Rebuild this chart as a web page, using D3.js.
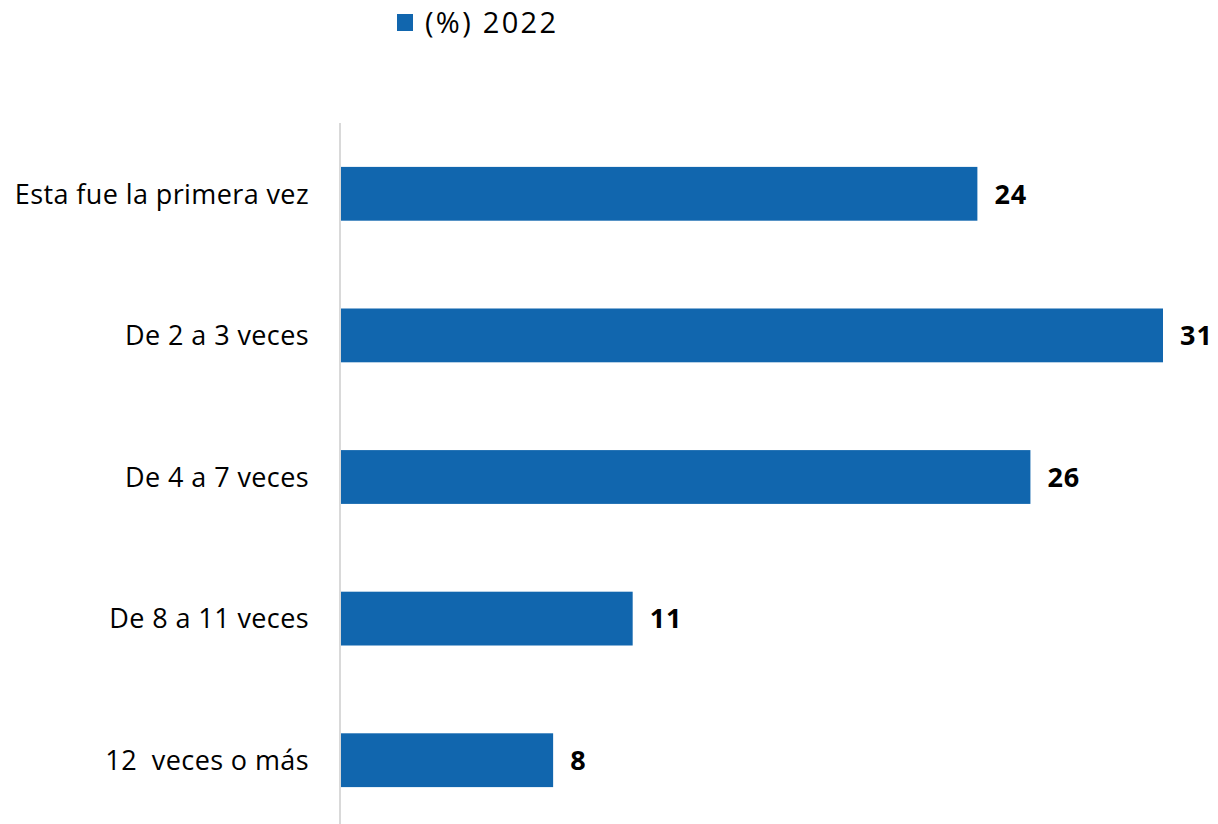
<!DOCTYPE html>
<html>
<head>
<meta charset="utf-8">
<script src="https://cdn.jsdelivr.net/npm/d3@7"></script>
<style>
  html, body { margin: 0; padding: 0; background: #fff; }
  svg text { font-family: "Open Sans", sans-serif; white-space: pre; }
</style>
</head>
<body>
<svg id="chart" width="1218" height="824"></svg>
<script>
// Number of times — share of respondents (%), 2022
const categories = ["Esta fue la primera vez", "De 2 a 3 veces", "De 4 a 7 veces", "De 8 a 11 veces", "12  veces o más"];
const values2022 = [24, 31, 26, 11, 8];
const seriesName = "(%) 2022";

const barColor = "#1166ae";
const svg = d3.select("#chart");

const x = d3.scaleLinear().domain([0, 31]).range([341, 1163]);
const y = d3.scaleBand().domain(categories).range([123, 831]).paddingInner(0.62).paddingOuter(0.31);

// vertical category axis line
svg.append("line")
  .attr("x1", 340).attr("x2", 340)
  .attr("y1", 123).attr("y2", 824)
  .attr("stroke", "#d9d9d9").attr("stroke-width", 2);

// bars
svg.selectAll("rect.bar")
  .data(values2022)
  .join("rect")
  .attr("class", "bar")
  .attr("x", x(0))
  .attr("y", (d, i) => y(categories[i]))
  .attr("width", d => x(d) - x(0))
  .attr("height", y.bandwidth())
  .attr("fill", barColor);

// value labels
svg.selectAll("text.val")
  .data(values2022)
  .join("text")
  .attr("class", "val")
  .attr("x", d => x(d) + 17)
  .attr("y", (d, i) => y(categories[i]) + y.bandwidth() / 2)
  .attr("dy", "0.36em")
  .attr("font-size", 27)
  .attr("font-weight", "bold")
  .attr("letter-spacing", 1)
  .attr("fill", "#000")
  .text(d => d);

// category labels
svg.selectAll("text.cat")
  .data(categories)
  .join("text")
  .attr("class", "cat")
  .attr("x", 309)
  .attr("y", d => y(d) + y.bandwidth() / 2)
  .attr("dy", "0.36em")
  .attr("text-anchor", "end")
  .attr("font-size", 27)
  .attr("letter-spacing", 0.4)
  .attr("fill", "#000")
  .text(d => d);

// legend
const legend = svg.append("g");
legend.append("rect")
  .attr("x", 397).attr("y", 14).attr("width", 16).attr("height", 17)
  .attr("fill", barColor);
legend.append("text")
  .attr("x", 425).attr("y", 33)
  .attr("font-size", 29)
  .attr("letter-spacing", 2.3)
  .attr("fill", "#000")
  .text(seriesName);
</script>
</body>
</html>
